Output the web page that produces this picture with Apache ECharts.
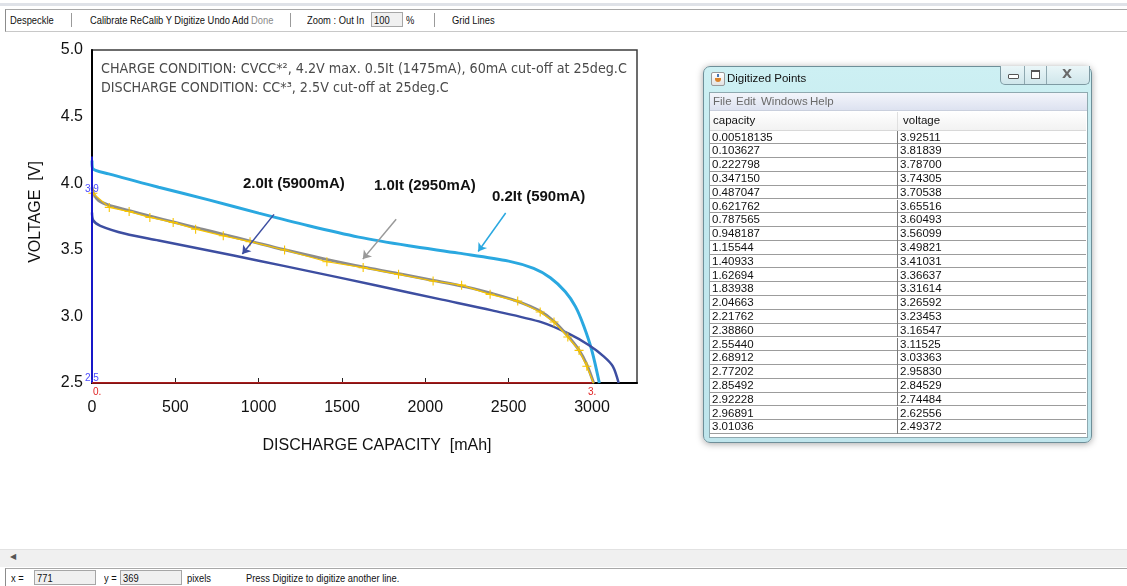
<!DOCTYPE html>
<html>
<head>
<meta charset="utf-8">
<title>Digitized Points</title>
<script src="https://cdn.jsdelivr.net/npm/echarts@6/dist/echarts.min.js"></script>
<style>
  html, body { margin:0; padding:0; background:#fff; width:1127px; height:586px; overflow:hidden;
    font-family:"Liberation Sans", Arial, sans-serif; }
  #chart { position:absolute; left:0; top:0; width:1127px; height:586px; }
  .ui { position:absolute; white-space:nowrap; }
  .tb { font-family:"Liberation Sans", Arial, sans-serif; font-size:11px; color:#111; line-height:14px;
    transform:scaleX(0.85); transform-origin:0 0; }
  .sep { position:absolute; width:1px; height:14px; background:#9a9a9a; top:13px; }
  #topband { left:0; top:3px; width:1127px; height:3px; background:#dfe2e8; }
  #toolbar { left:5px; top:9px; width:1122px; height:21px; border-left:1px solid #8c8c8c; border-top:1px solid #a8a8a8; border-bottom:1px solid #c8c8c8; background:#fff; }
  .box { position:absolute; background:#f0f0f0; border:1px solid #a6a6a6; height:13px; }
  #scroll { left:0; top:549px; width:1127px; height:17px; background:#f0f0f0; border-top:1px solid #e2e2e2; }
  #status { left:5px; top:568px; width:1122px; height:18px; border-left:1px solid #8c8c8c; border-top:1px solid #a8a8a8; background:#fff; }

  #win { left:703px; top:66px; width:387px; height:375px; border:1px solid #6e8f99; border-radius:7px;
    background:linear-gradient(180deg,#cdf0f3 0%,#c2e8ee 40%,#bfe5ec 100%);
    box-shadow:0 1px 7px rgba(0,0,0,0.35); }
  #wtitle { left:23px; top:5px; font-size:11.5px; color:#111; }
  #wicon { left:7px; top:5px; width:12px; height:12px; border:1px solid #9a9a9a; border-radius:2px;
    background:linear-gradient(#ffffff,#e2e2e2); }
  #wicon i { position:absolute; left:3px; top:5px; width:6px; height:4px; background:#d9822b; border-radius:0 0 3px 3px; }
  #wicon b { position:absolute; left:5px; top:1px; width:2px; height:3px; background:#4a77b4; }
  #wbtns { left:296px; top:-1px; width:88px; height:18px; border:1px solid #7e9aa3; border-top:none;
    border-radius:0 0 5px 5px; background:linear-gradient(#eaf6f8,#cfe6eb); overflow:hidden; }
  .wb { position:absolute; top:0; height:18px; border-right:1px solid #8ea8b0; }
  #client { left:5px; top:25px; width:377px; height:344px; border:1px solid #8fa9b0; background:#fff; }
  #menubar { left:0; top:0; width:377px; height:17px; background:linear-gradient(#f3f5fb,#dde2f0); border-bottom:1px solid #c9cfdd; }
  .menu { position:absolute; top:2px; font-size:11.5px; color:#6a6a6a; }
  #thead { left:0; top:18px; width:376px; height:19px; background:linear-gradient(#ffffff,#f2f2f2); border-bottom:1px solid #d8d8d8; }
  .th { position:absolute; top:3px; font-size:11.5px; color:#111; }
  #tbody { left:0; top:37.5px; width:376px; }
  .row { position:absolute; left:0; width:376px; height:12.8px; border-bottom:1px solid #9c9c9c; }
  .cell { position:absolute; top:0; font-size:11.5px; color:#111; line-height:13px; }
</style>
</head>
<body>
<div id="chart"></div>

<!-- toolbar -->
<div class="ui" id="topband"></div>
<div class="ui" id="toolbar"></div>
<div class="ui tb" style="left:10px;top:13px;">Despeckle</div>
<div class="sep" style="left:71px;"></div>
<div class="ui tb" style="left:90px;top:13px;">Calibrate ReCalib Y Digitize Undo Add</div>
<div class="ui tb" style="left:251px;top:13px;color:#8a8a8a;">Done</div>
<div class="sep" style="left:290px;"></div>
<div class="ui tb" style="left:307px;top:13px;">Zoom : Out In</div>
<div class="box" style="left:371px;top:12px;width:30px;"></div>
<div class="ui tb" style="left:374px;top:13px;">100</div>
<div class="ui tb" style="left:406px;top:13px;">%</div>
<div class="sep" style="left:434px;"></div>
<div class="ui tb" style="left:452px;top:13px;">Grid Lines</div>

<!-- digitized points window -->
<div class="ui" id="win">
  <div class="ui" id="wicon"><b></b><i></i></div>
  <div class="ui" id="wtitle">Digitized Points</div>
  <div class="ui" id="wbtns">
    <div class="wb" style="left:0;width:23px;"><div style="position:absolute;left:7px;top:8px;width:9px;height:3px;border:1px solid #555;border-radius:1px;background:#fff;"></div></div>
    <div class="wb" style="left:24px;width:21px;"><div style="position:absolute;left:6px;top:4px;width:7px;height:6px;border:1px solid #555;border-top-width:2px;background:#fff;"></div></div>
    <div class="wb" style="left:46px;width:42px;border-right:none;"><div style="position:absolute;left:15px;top:0px;font:bold 13px 'DejaVu Sans',sans-serif;color:#6a6a6a;">X</div></div>
  </div>
  <div class="ui" id="client">
    <div class="ui" id="menubar">
      <span class="menu" style="left:3px;">File</span>
      <span class="menu" style="left:26px;">Edit</span>
      <span class="menu" style="left:51px;">Windows</span>
      <span class="menu" style="left:100px;">Help</span>
    </div>
    <div class="ui" id="thead">
      <span class="th" style="left:3px;">capacity</span>
      <span class="th" style="left:193px;">voltage</span>
      <div style="position:absolute;left:187px;top:1px;width:1px;height:18px;background:#e0e0e0;"></div>
    </div>
    <div class="ui" id="tbody"></div>
  </div>
</div>

<!-- scroll strip and status bar -->
<div class="ui" id="scroll"></div>
<div class="ui" style="left:10px;top:552px;font-size:8px;color:#555;">&#9664;</div>
<div class="ui" id="status"></div>
<div class="ui tb" style="left:11px;top:571px;">x =</div>
<div class="box" style="left:34px;top:570px;width:60px;"></div>
<div class="ui tb" style="left:37px;top:571px;">771</div>
<div class="ui tb" style="left:104px;top:571px;">y =</div>
<div class="box" style="left:120px;top:570px;width:60px;"></div>
<div class="ui tb" style="left:123px;top:571px;">369</div>
<div class="ui tb" style="left:187px;top:571px;">pixels</div>
<div class="ui tb" style="left:246px;top:571px;">Press Digitize to digitize another line.</div>

<script>
// Discharge curves, capacity in mAh, voltage in V
const capacityTicks = [0, 500, 1000, 1500, 2000, 2500, 3000];
const voltageTicks = [2.5, 3.0, 3.5, 4.0, 4.5, 5.0];

// 0.2It (590mA)
const cap02It  = [0, 4, 100, 400, 700, 1000, 1300, 1600, 1900, 2200, 2500, 2650, 2750, 2840, 2900, 2950, 3000, 3044];
const volt02It = [4.17, 4.11, 4.07, 3.97, 3.875, 3.775, 3.68, 3.595, 3.53, 3.475, 3.415, 3.36, 3.29, 3.185, 3.075, 2.93, 2.74, 2.50];

// 1.0It (2950mA)
const cap10It  = [0, 10, 40, 100, 220, 350, 500, 650, 800, 950, 1150, 1400, 1650, 1850, 2050, 2250, 2400, 2550, 2680, 2770, 2850, 2920, 2970, 3010];
const volt10It = [3.97, 3.92, 3.87, 3.835, 3.795, 3.752, 3.705, 3.658, 3.612, 3.565, 3.502, 3.43, 3.365, 3.318, 3.27, 3.22, 3.172, 3.115, 3.045, 2.965, 2.86, 2.75, 2.635, 2.50];

// 2.0It (5900mA)
const cap20It  = [0, 8, 50, 200, 400, 700, 1000, 1300, 1700, 2100, 2400, 2700, 2860, 2980, 3070, 3125, 3160];
const volt20It = [3.78, 3.72, 3.68, 3.62, 3.57, 3.495, 3.418, 3.34, 3.234, 3.126, 3.045, 2.955, 2.87, 2.785, 2.70, 2.625, 2.50];

const digitizedCapacityAh = [0.00518135, 0.103627, 0.222798, 0.347150, 0.487047, 0.621762, 0.787565, 0.948187, 1.15544, 1.40933,
  1.62694, 1.83938, 2.04663, 2.21762, 2.38860, 2.55440, 2.68912, 2.77202, 2.85492, 2.92228, 2.96891, 3.01036];
const digitizedVoltage = [3.92511, 3.81839, 3.78700, 3.74305, 3.70538, 3.65516, 3.60493, 3.56099, 3.49821, 3.41031,
  3.36637, 3.31614, 3.26592, 3.23453, 3.16547, 3.11525, 3.03363, 2.95830, 2.84529, 2.74484, 2.62556, 2.49372];

// calibration marks of the digitizer
const calibY = [2.5, 4.2];
const calibX = [0, 3000];

const zip = (xs, ys) => xs.map((x, i) => [x, ys[i]]);

(function buildTable() {
  const body = document.getElementById('tbody');
  const rowH = 13.8;
  digitizedCapacityAh.forEach((c, i) => {
    const r = document.createElement('div');
    r.className = 'row';
    r.style.top = (i * rowH) + 'px';
    r.innerHTML = '<span class="cell" style="left:2px">' + c.toPrecision(6) + '</span>' +
      '<div style="position:absolute;left:187px;top:0;width:1px;height:13.8px;background:#7a7a7a"></div>' +
      '<span class="cell" style="left:190px">' + digitizedVoltage[i].toPrecision(6) + '</span>';
    body.appendChild(r);
  });
})();

const chart = echarts.init(document.getElementById('chart'), null, { renderer: 'canvas' });
const tickFont = { color: '#111', fontSize: 16, fontFamily: 'Liberation Sans, Arial, sans-serif' };
const plusSymbol = 'path://M4.4,0 H5.6 V4.4 H10 V5.6 H5.6 V10 H4.4 V5.6 H0 V4.4 H4.4 Z';
const noteFont = '14.2px "DejaVu Sans Condensed", "DejaVu Sans", sans-serif';
const labelFont = 'bold 15px "Liberation Sans", Arial, sans-serif';
const calibFont = '10px "Liberation Sans", Arial, sans-serif';

function arrow(from, to, color) {
  return {
    silent: true, symbol: ['none', 'arrow'], symbolSize: 8, animation: false,
    label: { show: false }, lineStyle: { color: color, width: 1.5, type: 'solid' },
    data: [[{ coord: from }, { coord: to }]]
  };
}

function curve(name, data, color, width, z, mark) {
  return {
    name: name, type: 'line', data: data, showSymbol: false, smooth: 0.3,
    lineStyle: { color: color, width: width }, z: z, markLine: mark
  };
}

const option = {
  animation: false,
  backgroundColor: 'transparent',
  grid: { left: 92, top: 50, width: 545, height: 333, show: true, borderColor: '#3c3c3c', borderWidth: 1.5 },
  xAxis: {
    type: 'value', min: 0, max: 3270, interval: 500,
    axisLine: { show: true, onZero: false, lineStyle: { color: '#000', width: 2 } },
    axisTick: { show: true, inside: true, length: 5, lineStyle: { color: '#222', width: 1 } },
    axisLabel: Object.assign({ margin: 17, showMaxLabel: false, formatter: v => capacityTicks.includes(v) ? String(v) : '' }, tickFont),
    splitLine: { show: false }
  },
  yAxis: {
    type: 'value', min: 2.5, max: 5.0, interval: 0.5,
    axisLine: { show: true, onZero: false, lineStyle: { color: '#000', width: 2 } },
    axisTick: { show: false },
    axisLabel: Object.assign({ margin: 9, formatter: v => voltageTicks.includes(v) ? v.toFixed(1) : '' }, tickFont),
    splitLine: { show: false }
  },
  series: [
    curve('0.2It', zip(cap02It, volt02It), '#2aa8e0', 3, 2, arrow([2482, 3.776], [2317, 3.487], '#2aa8e0')),
    curve('2.0It', zip(cap20It, volt20It), '#3d4ea1', 2.5, 2, arrow([1092, 3.766], [902, 3.468], '#3d4ea1')),
    curve('1.0It', zip(cap10It, volt10It), '#8c8c8c', 3, 3, arrow([1825, 3.729], [1625, 3.43], '#999999')),
    {
      name: 'digitized', type: 'line', data: zip(digitizedCapacityAh.map(c => c * 1000), digitizedVoltage),
      symbol: plusSymbol, symbolSize: 9, showSymbol: true,
      itemStyle: { color: '#f7c400' }, lineStyle: { color: '#f7c400', width: 1.2 }, z: 4
    },
    {
      name: 'calibY', type: 'line', data: [[0, calibY[0]], [0, calibY[1]]], showSymbol: false,
      lineStyle: { color: '#1818c8', width: 2 }, z: 5
    },
    {
      name: 'calibX', type: 'line', data: [[calibX[0], 2.5], [calibX[1], 2.5]], showSymbol: false,
      lineStyle: { color: '#e02424', width: 1.5 }, z: 5
    }
  ],
  graphic: [
    { type: 'text', style: { text: 'CHARGE CONDITION: CVCC*\u00b2, 4.2V max. 0.5It (1475mA), 60mA cut-off at 25deg.C', x: 101, y: 69,
        font: noteFont, fill: '#4a4a4a', textVerticalAlign: 'middle' } },
    { type: 'text', style: { text: 'DISCHARGE CONDITION: CC*\u00b3, 2.5V cut-off at 25deg.C', x: 101, y: 88,
        font: noteFont, fill: '#4a4a4a', textVerticalAlign: 'middle' } },
    { type: 'text', style: { text: '2.0It (5900mA)', x: 243, y: 184, font: labelFont, fill: '#111', textVerticalAlign: 'middle' } },
    { type: 'text', style: { text: '1.0It (2950mA)', x: 374, y: 186, font: labelFont, fill: '#111', textVerticalAlign: 'middle' } },
    { type: 'text', style: { text: '0.2It (590mA)', x: 492, y: 197, font: labelFont, fill: '#111', textVerticalAlign: 'middle' } },
    { type: 'text', x: 36, y: 212, rotation: Math.PI / 2,
      style: { text: 'VOLTAGE  [V]', x: 0, y: 0, font: '16px "Liberation Sans", Arial, sans-serif', fill: '#111', textAlign: 'center', textVerticalAlign: 'middle' } },
    { type: 'text', style: { text: 'DISCHARGE CAPACITY  [mAh]', x: 377, y: 446, font: '16px "Liberation Sans", Arial, sans-serif', fill: '#111', textAlign: 'center', textVerticalAlign: 'middle' } },
    { type: 'text', z: 10, style: { text: '3.9', x: 85, y: 189, font: calibFont, fill: '#4b4bff', textVerticalAlign: 'middle' } },
    { type: 'text', z: 10, style: { text: '2.5', x: 85, y: 378, font: calibFont, fill: '#4b4bff', textVerticalAlign: 'middle' } },
    { type: 'text', z: 10, style: { text: '0.', x: 93, y: 392, font: calibFont, fill: '#e02424', textVerticalAlign: 'middle' } },
    { type: 'text', z: 10, style: { text: '3.', x: 588, y: 392, font: calibFont, fill: '#e02424', textVerticalAlign: 'middle' } }
  ]
};
chart.setOption(option);
</script>
</body>
</html>
